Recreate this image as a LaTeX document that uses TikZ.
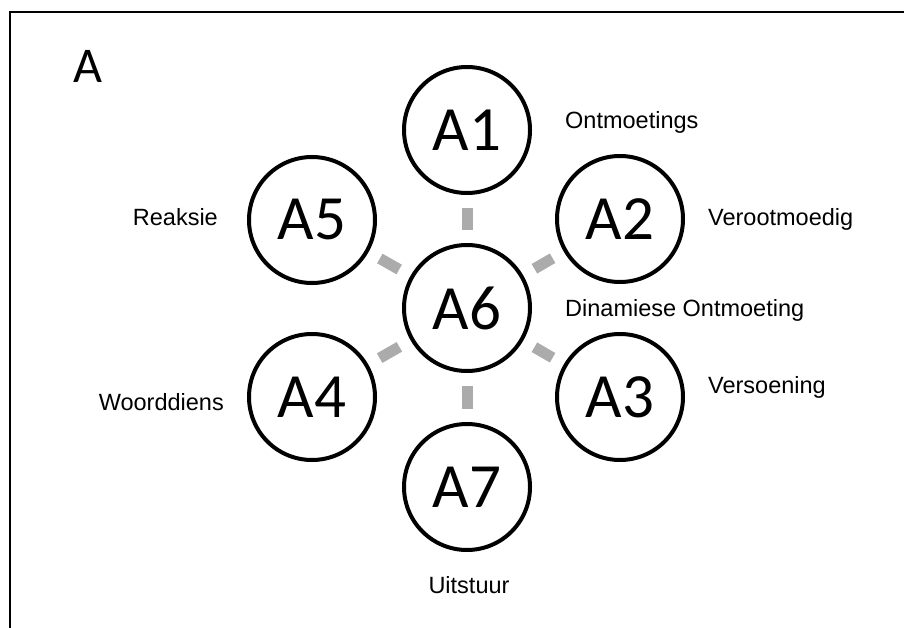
\documentclass[tikz,border=0pt]{standalone}
\usepackage{fontspec}
\setmainfont{Liberation Sans}
\newfontfamily\stagefont{Carlito}
\usepackage{tikz}
\usetikzlibrary{calc}

\begin{document}
\begin{tikzpicture}[x=1pt, y=-1pt,
    stage/.style={circle, draw=black, line width=4pt, minimum size=126pt,
      inner sep=0pt, font=\stagefont\fontsize{63}{63}\selectfont},
    link/.style={draw=black!33, line width=11pt, shorten <=13pt, shorten >=13pt},
    caption/.style={font=\fontsize{23.5}{24}\selectfont, inner sep=0pt}]
  \useasboundingbox (0,0) rectangle (904,628);
  \clip (0,0) rectangle (904,628);
  \draw[line width=2.2pt] (10,640) -- (10,12) -- (910,12);
  \node[font=\stagefont\fontsize{50}{50}\selectfont, inner sep=0pt] (panel) at (88,66) {A};
  % stages
  \node[stage] (a6) at (467,308) {A6};
  \node[stage] (a1) at (467,130) {A1};
  \node[stage] (a2) at (620,219) {A2};
  \node[stage] (a3) at (620,397) {A3};
  \node[stage] (a7) at (467,487) {A7};
  \node[stage] (a4) at (312,397) {A4};
  \node[stage] (a5) at (312,220) {A5};
  % links
  \foreach \s in {a1,a2,a3,a7,a4,a5}
    \draw[link] (a6) -- (\s);
  % captions
  \node[caption, anchor=base west] (cap1) at (565,129) {Ontmoetings};
  \node[caption, anchor=base west] (cap2) at (708,226) {Verootmoedig};
  \node[caption, anchor=base west] (cap6) at (565,316) {Dinamiese Ontmoeting};
  \node[caption, anchor=base west] (cap3) at (708,393) {Versoening};
  \node[caption, anchor=base] (cap7) at (469,593) {Uitstuur};
  \node[caption, anchor=base east] (cap4) at (224,410) {Woorddiens};
  \node[caption, anchor=base east] (cap5) at (218,226) {Reaksie};
\end{tikzpicture}
\end{document}
